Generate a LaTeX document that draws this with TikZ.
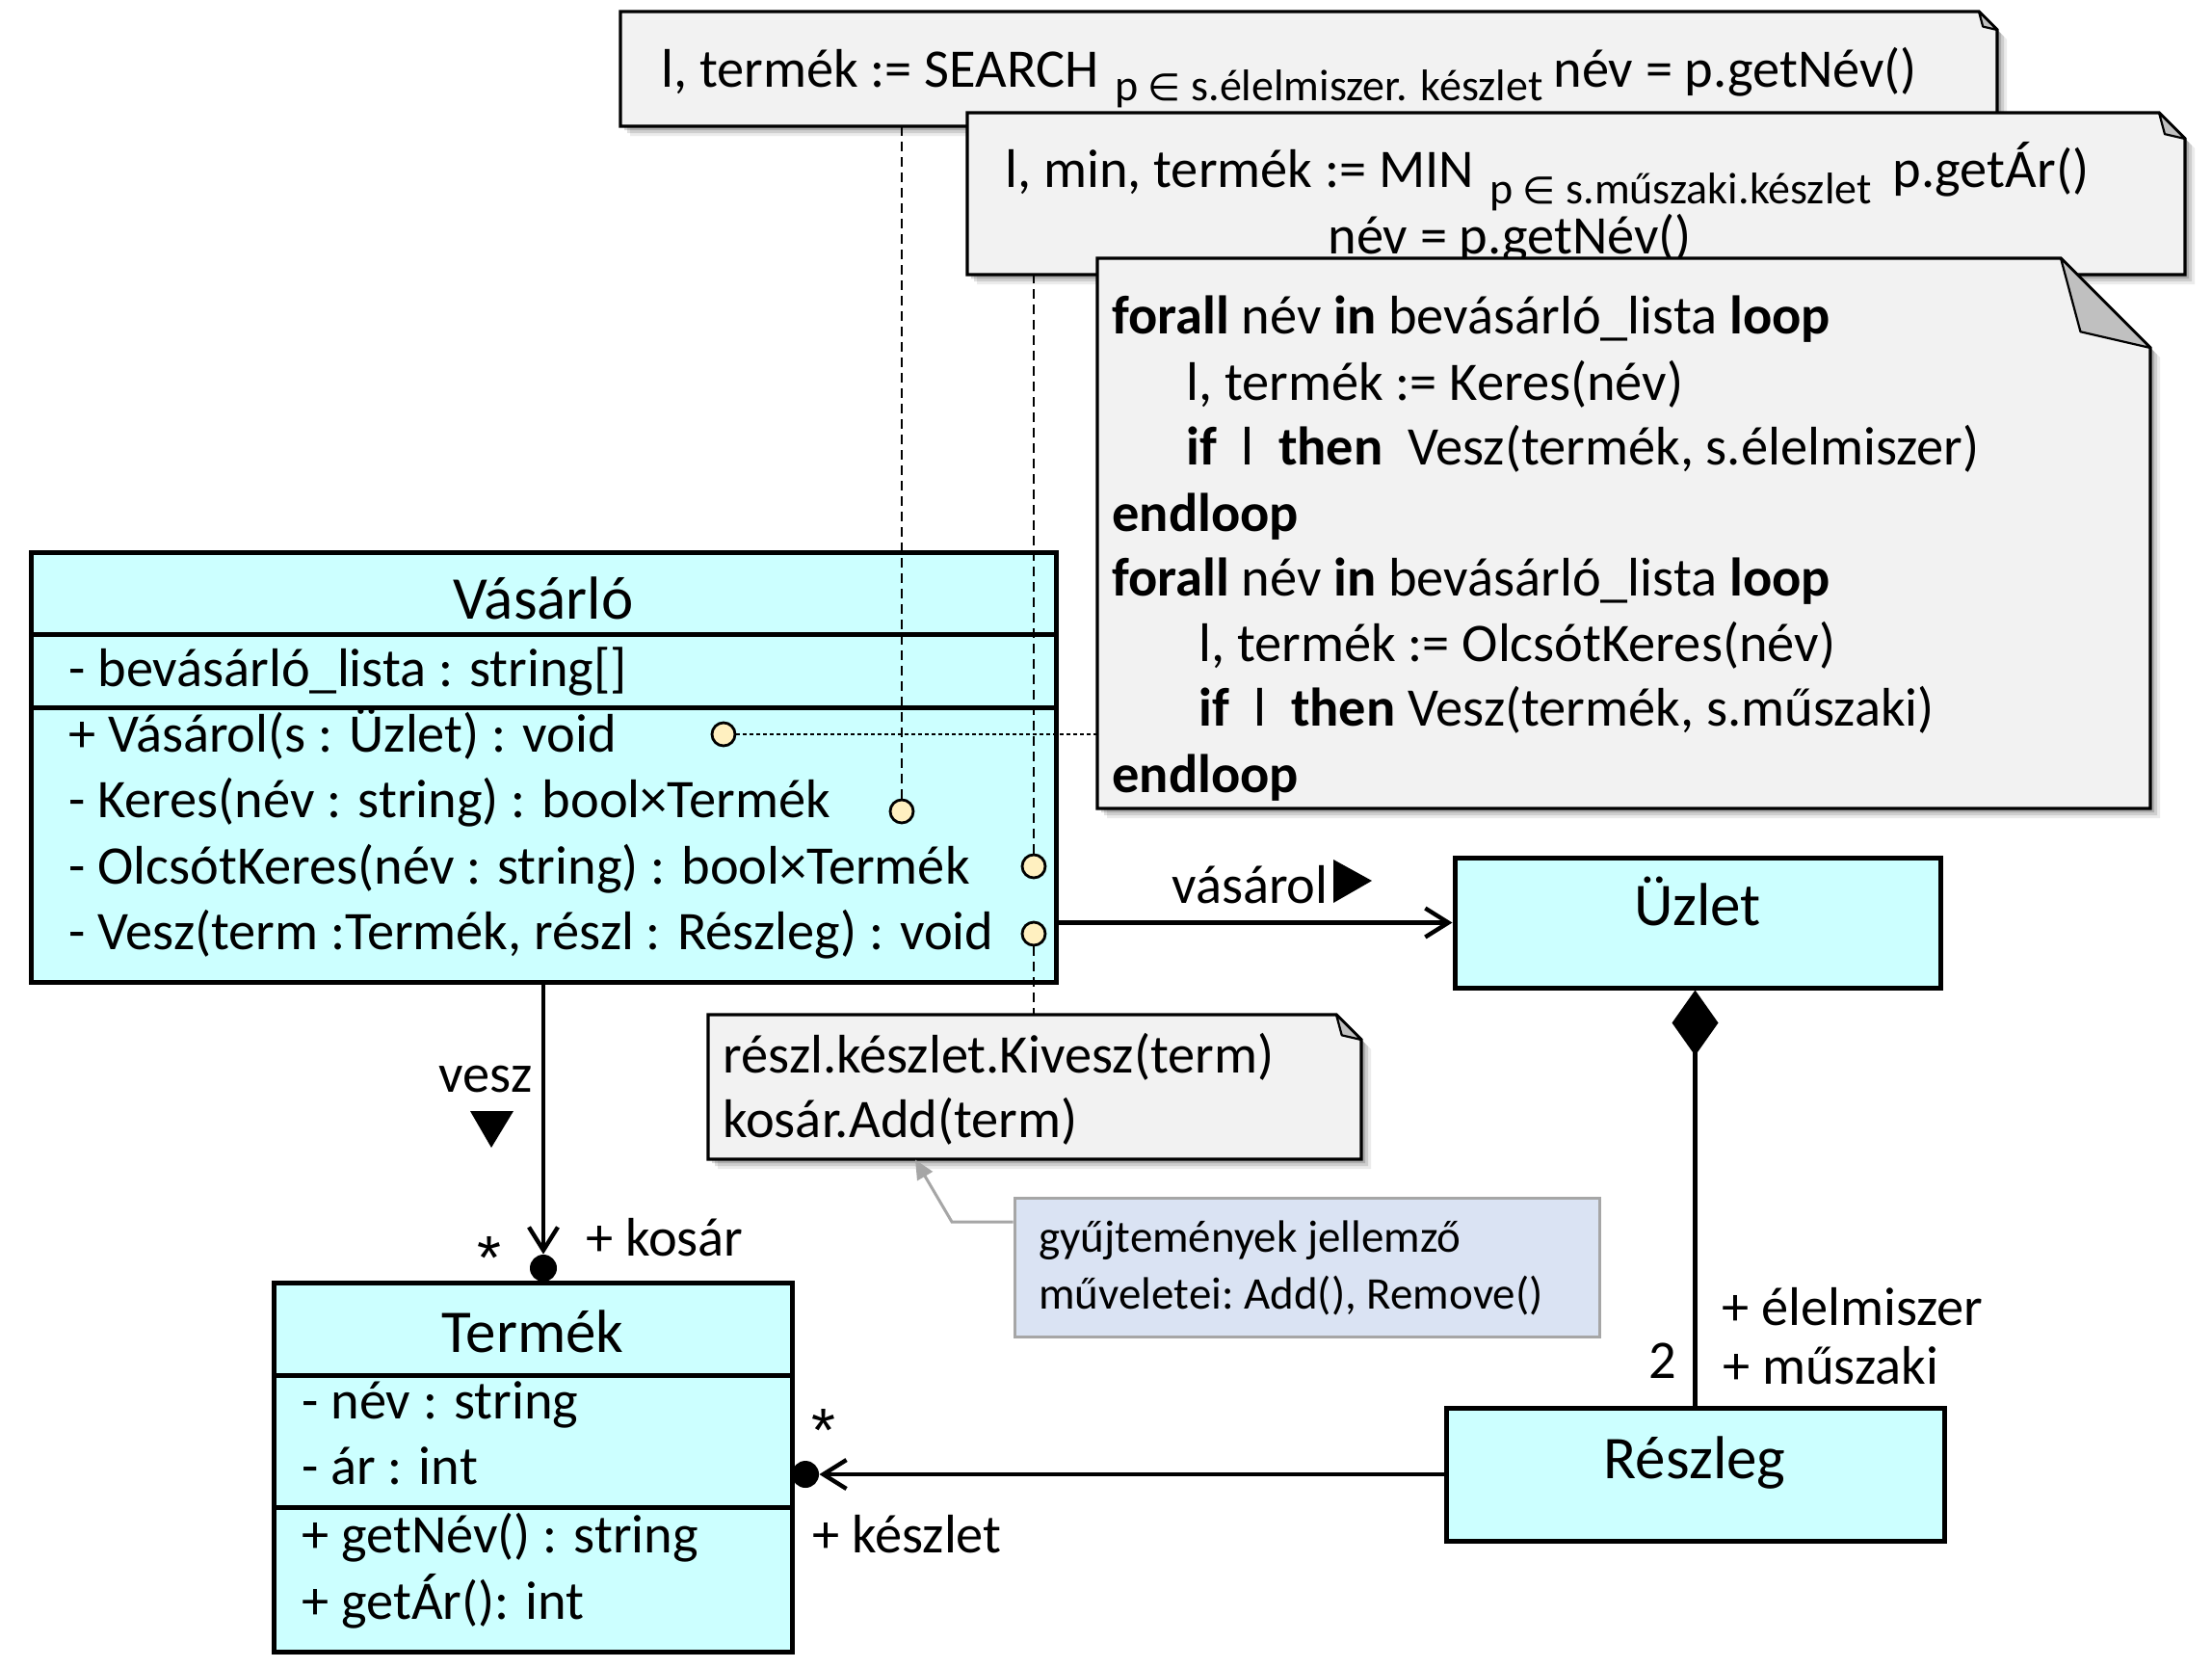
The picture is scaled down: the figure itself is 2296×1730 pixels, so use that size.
\documentclass[tikz,border=0pt]{standalone}
\usepackage{fontspec}
\setmainfont{Carlito}
\newfontfamily\symf[Scale=0.85]{DejaVu Sans}
\newfontfamily\astf{Liberation Sans}
\usetikzlibrary{arrows.meta,fit}
\definecolor{classfill}{HTML}{CCFFFF}
\definecolor{notefill}{HTML}{F2F2F2}
\definecolor{foldfill}{HTML}{C0C0C0}
\definecolor{portfill}{HTML}{FFF0C0}
\definecolor{bluefill}{HTML}{DAE3F3}
\definecolor{blueline}{HTML}{A6A6A6}
\newcommand{\dognote}[5]{%
  \foreach \s/\o in {10/0.08,7/0.12,4/0.16}{%
    \fill[black,opacity=\o] (#1+\s,#2+\s) -- (#3-#5+\s,#2+\s) -- (#3+\s,#2+#5+\s) -- (#3+\s,#4+\s) -- (#1+\s,#4+\s) -- cycle;}
  \filldraw[notestyle] (#1,#2) -- (#3-#5,#2) -- (#3,#2+#5) -- (#3,#4) -- (#1,#4) -- cycle;
  \filldraw[foldstyle] (#3-#5,#2) -- (#3-0.78*#5,#2+0.82*#5) -- (#3,#2+#5) -- cycle;
}
\begin{document}
\begin{tikzpicture}[x=0.5pt,y=-0.5pt,
  classbox/.style={draw=black,line width=2.5pt,fill=classfill,inner sep=0pt},
  classline/.style={draw=black,line width=2.5pt},
  notestyle/.style={draw=black,line width=1.6pt,fill=notefill,line join=miter},
  foldstyle/.style={draw=black,line width=1.1pt,fill=foldfill,line join=round},
  assoc/.style={draw=black,line width=2.2pt},
  barb/.style={-{Straight Barb[length=12pt,width=15pt]}},
  port/.style={circle,draw=black,line width=1.4pt,fill=portfill,minimum size=12pt,inner sep=0pt},
  owndot/.style={circle,fill=black,minimum size=14pt,inner sep=0pt},
  dashline/.style={draw=black,line width=0.7pt,dash pattern=on 5pt off 3pt},
  dotline/.style={draw=black,line width=0.7pt,dash pattern=on 2pt off 1.5pt},
  txt/.style={inner sep=0pt,anchor=base west,font=\fontsize{28.2}{34}\selectfont},
  ctitle/.style={inner sep=0pt,anchor=base,font=\fontsize{31.5}{38}\selectfont},
  subtxt/.style={inner sep=0pt,anchor=base west,font=\fontsize{23}{27}\selectfont},
  smalltxt/.style={inner sep=0pt,anchor=base west,font=\fontsize{23.5}{28}\selectfont},
  asttxt/.style={inner sep=0pt,anchor=base west,font=\astf\fontsize{32}{38}\selectfont},
  area/.style={inner sep=0pt}]
\useasboundingbox (0,0) rectangle (2296,1730);
\fill[white] (0,0) rectangle (2296,1730);

% ---- note 1
\dognote{644}{12}{2073}{131}{19}
\node[area,fit={(644,12)(2073,131)}] (n1) {};
\node[txt] (t1a) at (686,90) {l, termék := SEARCH};
\node[subtxt] (t1b) at (1157,104) {p {\symf ∈} s.élelmiszer. készlet};
\node[txt] (t1c) at (1612,90) {név = p.getNév()};

% ---- note 2
\dognote{1004}{117}{2268}{285}{27}
\node[area,fit={(1004,117)(2268,285)}] (n2) {};
\node[txt] (t2a) at (1043,194) {l, min, termék := MIN};
\node[subtxt] (t2b) at (1546,211) {p {\symf ∈} s.műszaki.készlet};
\node[txt] (t2c) at (1964,194) {p.getÁr()};
\node[txt] (t2d) at (1378,263) {név = p.getNév()};

% ---- note 3
\dognote{1139}{268}{2232}{839}{93}
\node[area,fit={(1139,268)(2232,839)}] (n3) {};
\node[txt] (t3a) at (1154,346) {\textbf{forall} név \textbf{in} bevásárló\_lista \textbf{loop}};
\node[txt] (t3b) at (1231,415) {l, termék := Keres(név)};
\node[txt] (t3c) at (1231,482) {\textbf{if}\ \ l\ \ \textbf{then}\ \ Vesz(termék, s.élelmiszer)};
\node[txt] (t3d) at (1154,551) {\textbf{endloop}};
\node[txt] (t3e) at (1154,618) {\textbf{forall} név \textbf{in} bevásárló\_lista \textbf{loop}};
\node[txt] (t3f) at (1244,686) {l, termék := OlcsótKeres(név)};
\node[txt] (t3g) at (1244,753) {\textbf{if}\ \ l\ \ \textbf{then} Vesz(termék, s.műszaki)};
\node[txt] (t3h) at (1154,822) {\textbf{endloop}};

% ---- note 4
\dognote{735}{1053}{1413}{1203}{26}
\node[area,fit={(735,1053)(1413,1203)}] (n4) {};
\node[txt] (t4a) at (750,1113) {részl.készlet.Kivesz(term)};
\node[txt] (t4b) at (750,1180) {kosár.Add(term)};

% ---- note 5 (blue comment)
\node[area,draw=blueline,line width=1.5pt,fill=bluefill,fit={(1053,1243)(1660,1387)}] (n5) {};
\node[smalltxt] (t5a) at (1078,1299) {gyűjtemények\ jellemző};
\node[smalltxt] (t5b) at (1078,1358) {műveletei:\ Add(), Remove()};
\coordinate (c5) at (988,1268);
\draw[draw=blueline,line width=1.5pt,-{Triangle[length=10pt,width=9pt]}] (n5.west |- c5) -- (c5) -- ([xshift=-62pt]n4.south);

% ---- classes
\node[classbox,fit={(32,573)(1096,1019)}] (vasarlo) {};
\draw[classline] (32,658) -- (1096,658);
\draw[classline] (32,734) -- (1096,734);
\node[classbox,fit={(284,1331)(822,1714)}] (termek) {};
\draw[classline] (284,1427) -- (822,1427);
\draw[classline] (284,1564) -- (822,1564);
\node[classbox,fit={(1510,890)(2014,1025)}] (uzlet) {};
\node[classbox,fit={(1501,1461)(2018,1599)}] (reszleg) {};

\node[ctitle] (tv) at (564,642) {Vásárló};
\node[txt] (va1) at (71,712) {- bevásárló\_lista : string[]};
\node[txt] (vm1) at (71,780) {+ Vásárol(s : Üzlet) : void};
\node[txt] (vm2) at (71,848) {- Keres(név : string) : bool×Termék};
\node[txt] (vm3) at (71,917) {- OlcsótKeres(név\ : string) : bool×Termék};
\node[txt] (vm4) at (71,985) {- Vesz(term\ :Termék, részl : Részleg) : void};

\node[ctitle] (tt) at (553,1403) {Termék};
\node[txt] (ta1) at (313,1472) {- név : string};
\node[txt] (ta2) at (313,1540) {- ár : int};
\node[txt] (tm1) at (313,1611) {+ getNév() : string};
\node[txt] (tm2) at (313,1680) {+ getÁr(): int};

\node[ctitle] (tu) at (1762,960) {Üzlet};
\node[ctitle] (tr) at (1759,1534) {Részleg};

% ---- associations
\node[owndot] (d1) at (564,1316) {};
\draw[assoc,barb] (vasarlo.south) -- (d1.north);
\draw[assoc] (d1.center) -- (d1 |- termek.north);
\node[owndot] (d2) at (836,1530) {};
\draw[assoc,barb] (reszleg.west) -- (d2.east);
\draw[assoc] (d2.center) -- (d2 -| termek.east);
\draw[assoc,barb] (vasarlo.east |- uzlet.west) -- (uzlet.west);
\draw[assoc,{Diamond[length=34pt,width=24pt]}-] (reszleg.north |- uzlet.south) -- (reszleg.north);

% ---- ports and their links
\node[port] (p1) at (751,762) {};
\node[port] (p2) at (936,842) {};
\node[port] (p3) at (1073,899) {};
\node[port] (p4) at (1073,969) {};
\draw[dotline] (p1.east) -- (p1 -| n3.west);
\draw[dashline] (p2.north) -- (p2 |- n1.south);
\draw[dashline] (p3.north) -- (p3 |- n2.south);
\draw[dashline] (p4.south) -- (p4 |- n4.north);

% ---- labels
\node[txt] (lvas) at (1216,937) {vásárol};
\fill (1384,892) -- (1424,914) -- (1384,937) -- cycle;
\node[txt] (lvesz) at (455,1133) {vesz};
\fill (488,1153) -- (533,1153) -- (510,1191) -- cycle;
\node[asttxt] (ast1) at (495,1327) {*};
\node[txt] (lkosar) at (608,1303) {+ kosár};
\node[asttxt] (ast2) at (842,1506) {*};
\node[txt] (lkeszlet) at (843,1611) {+ készlet};
\node[txt] (l2) at (1711,1430) {2};
\node[txt] (lelm) at (1787,1375) {+ élelmiszer};
\node[txt] (lmu) at (1788,1436) {+ műszaki};
\end{tikzpicture}
\end{document}
